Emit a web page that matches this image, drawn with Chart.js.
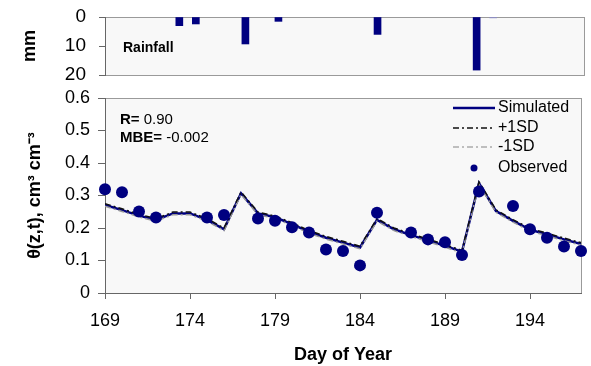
<!DOCTYPE html>
<html>
<head>
<meta charset="utf-8">
<script src="https://cdn.jsdelivr.net/npm/chart.js@4"></script>
<style>
  html, body { margin: 0; padding: 0; background: #fff; }
  #wrap { position: relative; width: 591px; height: 366px; }
  #wrap canvas { position: absolute; left: 0; top: 0; }
</style>
</head>
<body>
<div id="wrap">
  <canvas id="soilChart" width="591" height="366"></canvas>
  <canvas id="rainChart" width="591" height="366"></canvas>
</div>
<script>
// datos
const days = [169, 170, 171, 172, 173, 174, 175, 176, 177, 178, 179, 180, 181, 182, 183, 184, 185, 186, 187, 188, 189, 190, 191, 192, 193, 194, 195, 196, 197];
const simulated = [0.271, 0.255, 0.238, 0.225, 0.245, 0.245, 0.225, 0.196, 0.307, 0.245, 0.233, 0.212, 0.188, 0.170, 0.155, 0.140, 0.225, 0.196, 0.178, 0.162, 0.145, 0.127, 0.338, 0.252, 0.222, 0.195, 0.180, 0.165, 0.151];
const plusSD = [0.275, 0.259, 0.242, 0.229, 0.249, 0.249, 0.229, 0.200, 0.311, 0.249, 0.237, 0.216, 0.192, 0.174, 0.159, 0.144, 0.229, 0.200, 0.182, 0.166, 0.149, 0.131, 0.342, 0.256, 0.226, 0.199, 0.184, 0.169, 0.155];
const minusSD = [0.267, 0.251, 0.234, 0.221, 0.241, 0.241, 0.221, 0.192, 0.303, 0.241, 0.229, 0.208, 0.184, 0.166, 0.151, 0.136, 0.221, 0.192, 0.174, 0.158, 0.141, 0.123, 0.334, 0.248, 0.218, 0.191, 0.176, 0.161, 0.147];

const obsDays = [169, 170, 171, 172, 175, 176, 178, 179, 180, 181, 182, 183, 184, 185, 187, 188, 189, 190, 191, 193, 194, 195, 196, 197];
const observed = [0.319, 0.310, 0.251, 0.232, 0.232, 0.240, 0.229, 0.222, 0.202, 0.186, 0.134, 0.129, 0.085, 0.247, 0.186, 0.165, 0.156, 0.117, 0.312, 0.268, 0.196, 0.170, 0.143, 0.129];

const rainDays = [173.5, 174.5, 177.5, 179.5, 185.5, 191.5, 192.5];
const rainMm = [3.0, 2.4, 9.3, 1.5, 6.0, 18.3, 0.3];

const dayTicks = [169, 174, 179, 184, 189, 194];
const thetaTicks = [0, 0.1, 0.2, 0.3, 0.4, 0.5, 0.6];
const rainTicks = [0, 10, 20];

const NAVY = '#000080';
const FONT = '"Liberation Sans", Arial, sans-serif';

const toXY = (xs, ys) => xs.map((x, i) => ({ x: x, y: ys[i] }));

// fondo gris claro y marco del area de trazado (los ejes se pintan encima)
const plotBox = {
    id: 'plotBox',
    beforeDraw: (chart) => {
        const { ctx, chartArea: a } = chart;
        ctx.save();
        ctx.fillStyle = '#f8f8f8';
        ctx.fillRect(a.left, a.top, a.right - a.left, a.bottom - a.top);
        ctx.strokeStyle = '#9a9a9a';
        ctx.lineWidth = 1;
        ctx.strokeRect(Math.round(a.left) + 0.5, Math.round(a.top) + 0.5, Math.round(a.right - a.left), Math.round(a.bottom - a.top));
        ctx.restore();
    }
};

const soilNotes = {
    id: 'soilNotes',
    afterDraw: (chart) => {
        const ctx = chart.ctx;
        ctx.save();
        ctx.textBaseline = 'middle';
        ctx.fillStyle = '#000';

        // estadisticos
        const stats = [['R=', ' 0.90', 120], ['MBE=', ' -0.002', 138]];
        stats.forEach(([k, v, y]) => {
            ctx.font = 'bold 15px ' + FONT;
            ctx.fillText(k, 120, y);
            const w = ctx.measureText(k).width;
            ctx.font = '15px ' + FONT;
            ctx.fillText(v, 120 + w, y);
        });

        // leyenda
        const lx0 = 453, lx1 = 495;
        ctx.lineWidth = 2.5;
        ctx.strokeStyle = NAVY;
        ctx.beginPath(); ctx.moveTo(lx0, 108); ctx.lineTo(lx1, 108); ctx.stroke();
        ctx.lineWidth = 1.5;
        ctx.setLineDash([6, 3, 2, 3]);
        ctx.strokeStyle = '#111';
        ctx.beginPath(); ctx.moveTo(lx0, 128); ctx.lineTo(lx1, 128); ctx.stroke();
        ctx.strokeStyle = '#aaa';
        ctx.beginPath(); ctx.moveTo(lx0, 147); ctx.lineTo(lx1, 147); ctx.stroke();
        ctx.setLineDash([]);
        ctx.fillStyle = NAVY;
        ctx.beginPath(); ctx.arc(474, 168, 3.5, 0, Math.PI * 2); ctx.fill();

        ctx.fillStyle = '#000';
        ctx.font = '16px ' + FONT;
        ctx.fillText('Simulated', 498, 108);
        ctx.fillText('+1SD', 498, 128);
        ctx.fillText('-1SD', 498, 147);
        ctx.fillText('Observed', 498, 168);
        ctx.restore();
    }
};

const rainNotes = {
    id: 'rainNotes',
    afterDraw: (chart) => {
        const ctx = chart.ctx;
        ctx.save();
        ctx.fillStyle = '#000';
        ctx.textBaseline = 'middle';
        ctx.font = 'bold 14px ' + FONT;
        ctx.fillText('Rainfall', 123, 48);
        ctx.restore();
    }
};

new Chart(document.getElementById('soilChart').getContext('2d'), {
    type: 'line',
    data: {
        datasets: [
            {
                label: 'Observed',
                data: toXY(obsDays, observed),
                showLine: false,
                pointRadius: 6,
                pointBackgroundColor: NAVY,
                pointBorderColor: NAVY,
                pointBorderWidth: 0,
                clip: false,
                order: 0
            },
            {
                label: '+1SD',
                data: toXY(days, plusSD),
                borderColor: '#111',
                borderWidth: 1.5,
                borderDash: [6, 3, 2, 3],
                pointRadius: 0,
                order: 1
            },
            {
                label: '-1SD',
                data: toXY(days, minusSD),
                borderColor: '#999',
                borderWidth: 1.5,
                borderDash: [6, 3, 2, 3],
                pointRadius: 0,
                order: 2
            },
            {
                label: 'Simulated',
                data: toXY(days, simulated),
                borderColor: NAVY,
                borderWidth: 2.5,
                pointRadius: 0,
                tension: 0,
                order: 3
            }
        ]
    },
    options: {
        responsive: false,
        animation: false,
        layout: { padding: { top: 98, right: 10, left: 18, bottom: 0 } },
        plugins: { legend: { display: false }, tooltip: { enabled: false } },
        scales: {
            x: {
                type: 'linear',
                min: 169,
                max: 197,
                afterBuildTicks: (s) => { s.ticks = dayTicks.map(v => ({ value: v })); },
                afterFit: (s) => { s.height = 73; s.paddingLeft = 0; s.paddingRight = 0; },
                ticks: { color: '#000', font: { family: FONT, size: 18 }, padding: 11, maxRotation: 0 },
                grid: { drawOnChartArea: false, tickLength: 6, color: '#666' },
                border: { color: '#666', width: 1 },
                title: { display: true, text: 'Day of Year', color: '#000', font: { family: FONT, size: 18, weight: 'bold' }, padding: { top: 0, bottom: 0 } }
            },
            y: {
                type: 'linear',
                min: 0,
                max: 0.6,
                afterBuildTicks: (s) => { s.ticks = thetaTicks.map(v => ({ value: v })); },
                afterFit: (s) => { s.width = 87; s.paddingTop = 0; s.paddingBottom = 0; },
                ticks: { color: '#000', font: { family: FONT, size: 18 }, padding: 8, callback: (v) => String(v) },
                grid: { drawOnChartArea: false, tickLength: 7, color: '#666' },
                border: { color: '#666', width: 1 },
                title: { display: true, text: 'θ(z,t), cm³ cm⁻³', color: '#000', font: { family: FONT, size: 18, weight: 'bold' }, padding: { top: 6, bottom: 0 } }
            }
        }
    },
    plugins: [plotBox, soilNotes]
});

new Chart(document.getElementById('rainChart').getContext('2d'), {
    type: 'bar',
    data: {
        datasets: [{
            label: 'Rainfall',
            data: toXY(rainDays, rainMm),
            backgroundColor: rainMm.map(v => v < 1 ? '#8c8cc8' : NAVY),
            barThickness: 7
        }]
    },
    options: {
        responsive: false,
        animation: false,
        layout: { padding: { top: 17, right: 7, left: 15, bottom: 291 } },
        plugins: { legend: { display: false }, tooltip: { enabled: false } },
        scales: {
            x: { type: 'linear', min: 169, max: 198, offset: false, display: false },
            y: {
                type: 'linear',
                reverse: true,
                min: 0,
                max: 20,
                afterBuildTicks: (s) => { s.ticks = rainTicks.map(v => ({ value: v })); },
                afterFit: (s) => { s.width = 90; s.paddingTop = 0; s.paddingBottom = 0; },
                ticks: { color: '#000', font: { family: FONT, size: 19 }, padding: 13, callback: (v) => String(v) },
                grid: { drawOnChartArea: false, tickLength: 6, color: '#666' },
                border: { color: '#666', width: 1 },
                title: { display: true, text: 'mm', color: '#000', font: { family: FONT, size: 18, weight: 'bold' }, padding: { top: 4, bottom: 0 } }
            }
        }
    },
    plugins: [plotBox, rainNotes]
});
</script>
</body>
</html>
